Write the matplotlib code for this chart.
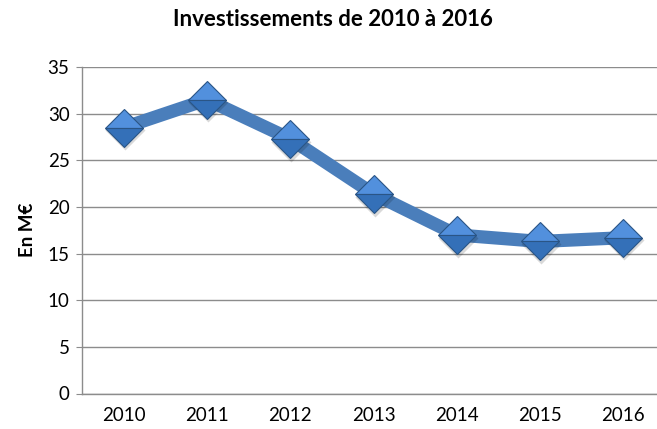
import matplotlib
matplotlib.use("Agg")
import matplotlib.pyplot as plt
import matplotlib.transforms as mtransforms

years = ["2010", "2011", "2012", "2013", "2014", "2015", "2016"]
invest = [28.5, 31.5, 27.3, 21.4, 17.0, 16.3, 16.7]

plt.rcParams['font.family'] = ['Lato', 'DejaVu Sans']

fig = plt.figure(figsize=(6.57, 4.29), dpi=100)
ax = fig.add_axes([82/657, 1 - 393.5/429, 583/657, (393.5 - 67)/429])

x = list(range(len(years)))

# main thick line
ax.plot(x, invest, color='#4A7EBB', lw=9.5, solid_capstyle='butt', zorder=3)

# soft marker shadow, shifted a bit down
shadow = mtransforms.offset_copy(ax.transData, fig=fig, x=0.8, y=-2.0, units='points')
ax.plot(x, invest, ls='none', marker='D', ms=20, color='#000000', alpha=0.15,
        mec='none', transform=shadow, zorder=4)

# diamonds, lighter top half and darker bottom half
ax.plot(x, invest, ls='none', marker='D', ms=19.5, fillstyle='top',
        mfc='#5290DD', mfcalt='#3470B8', mec='#2A5586', mew=0.8, zorder=5)

ax.set_xlim(-0.5, 6.5)
ax.set_ylim(0, 35)
ax.set_yticks(range(0, 36, 5))
ax.set_xticks(x)
ax.set_xticklabels(years)

ax.yaxis.grid(True, color='#8C8C8C', lw=1.0)
ax.set_axisbelow(True)
for s in ['top', 'right']:
    ax.spines[s].set_visible(False)
for s in ['left', 'bottom']:
    ax.spines[s].set_color('#8C8C8C')
    ax.spines[s].set_linewidth(1.0)

ax.tick_params(axis='y', length=4, color='#8C8C8C', labelsize=13.5, pad=5)
ax.tick_params(axis='x', length=0, labelsize=13.5, pad=10)

ax.set_ylabel('En M€', fontsize=13.5, fontweight='bold', labelpad=8)
fig.text(333/657, 1 - 20/429, 'Investissements de 2010 à 2016', ha='center', va='center',
         fontsize=16, fontweight='bold')

fig.savefig('out.png', dpi=100)
